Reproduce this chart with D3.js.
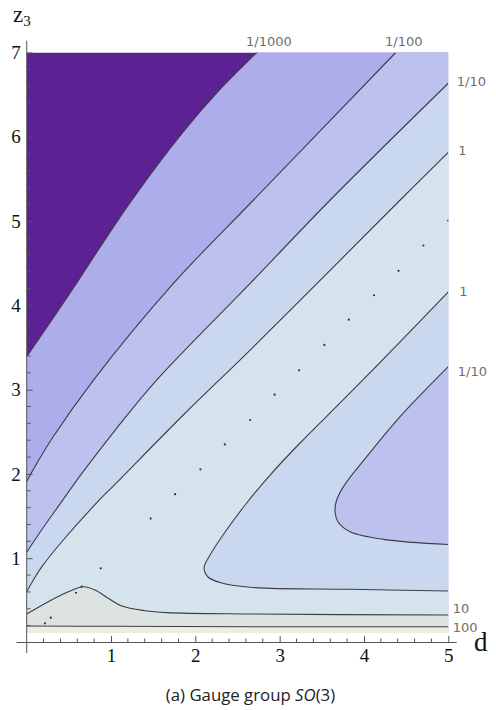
<!DOCTYPE html>
<html>
<head>
<meta charset="utf-8">
<script src="https://cdn.jsdelivr.net/npm/d3@7"></script>
<style>
  html, body { margin: 0; padding: 0; background: #fff; }
  svg { display: block; }
</style>
</head>
<body>
<svg id="chart" width="496" height="710"></svg>
<script>
// Axis ticks
const dTicks = [1, 2, 3, 4, 5];
const zTicks = [1, 2, 3, 4, 5, 6, 7];

// Plotted window in (d, z3)
const dRange = [0, 5];
const zRange = [0.113, 7];

// Contour lines, each a list of [d, z3] pairs
const lineThousandth = [[0, 3.39], [0.3, 3.83], [0.55, 4.2], [0.87, 4.69], [1.255, 5.26], [1.858, 6.06], [2.3, 6.57], [2.728, 7.0]];
const lineHundredth = [[0, 1.91], [0.1, 2.09], [0.3, 2.42], [0.79, 3.11], [1.74, 4.26], [2.69, 5.25], [4.377, 7.0]];
const lineTenth = [[0, 1.07], [0.18, 1.34], [0.375, 1.615], [0.65, 2.0], [1.05, 2.52], [1.52, 3.09], [2.65, 4.26], [3.6, 5.25], [5, 6.635]];
const lineUnitUpper = [[0, 0.603], [0.09, 0.76], [0.18, 0.9], [0.434, 1.216], [0.87, 1.7], [1.05, 1.88], [1.878, 2.72], [2.65, 3.47], [4.43, 5.25], [5, 5.816]];
const lineUnitLower = [[5, 4.16], [4.428, 3.566], [3.752, 2.878], [3.242, 2.367], [2.886, 1.987], [2.59, 1.631], [2.353, 1.311], [2.175, 1.038], [2.103, 0.884], [2.151, 0.777], [2.293, 0.712], [2.649, 0.655], [3.835, 0.631], [5, 0.611]];
const lineTenthNose = [[5, 3.272], [4.428, 2.679], [4.033, 2.205], [3.756, 1.849], [3.669, 1.667], [3.657, 1.548], [3.693, 1.43], [3.835, 1.315], [4.23, 1.224], [5, 1.163]];
const lineTen = [[0, 0.338], [0.256, 0.484], [0.454, 0.584], [0.671, 0.662], [0.81, 0.623], [0.968, 0.524], [1.127, 0.433], [1.403, 0.377], [1.66, 0.354], [2.65, 0.338], [5, 0.326]];
const lineHundred = [[0, 0.196], [1.0, 0.192], [2.65, 0.187], [5, 0.187]];

// Sample points
const dotD = [0.217, 0.285, 0.585, 0.652, 0.878, 1.47, 1.76, 2.06, 2.35, 2.65, 2.94, 3.23, 3.53, 3.82, 4.12, 4.41, 4.705, 5.0];
const dotZ = [0.228, 0.294, 0.59, 0.662, 0.88, 1.47, 1.76, 2.055, 2.35, 2.64, 2.94, 3.23, 3.53, 3.83, 4.12, 4.41, 4.71, 5.005];

// Band fills, from the lowest values up
const fillBelowThousandth = "#5c2192";
const fillThousandthToHundredth = "#adadeb";
const fillHundredthToTenth = "#bcc1ee";
const fillTenthToOne = "#c9d8ef";
const fillOneToTen = "#d5e3ec";
const fillTenToHundred = "#dde3e1";
const fillAboveHundred = "#eeebe1";

const svg = d3.select("#chart");

const x = d3.scaleLinear().domain([0, 5]).range([26.7, 448.3]);
const y = d3.scaleLinear().domain([0, 7]).range([642.5, 52.5]);

const curve = d3.line()
  .x(p => x(p[0]))
  .y(p => y(p[1]))
  .curve(d3.curveCatmullRom.alpha(0.5));

// a contour followed by straight edges of the window
function region(points, tail) {
  return curve(points) + tail.map(p => "L" + x(p[0]) + "," + y(p[1])).join("") + "Z";
}

const [d0, d1] = dRange;
const [z0, z1] = zRange;

svg.append("clipPath").attr("id", "plotClip")
  .append("rect")
  .attr("x", x(d0)).attr("y", y(z1))
  .attr("width", x(d1) - x(d0)).attr("height", y(z0) - y(z1));

const plot = svg.append("g").attr("clip-path", "url(#plotClip)");

plot.append("rect")
  .attr("x", x(d0)).attr("y", y(z1))
  .attr("width", x(d1) - x(d0)).attr("height", y(z0) - y(z1))
  .attr("fill", fillBelowThousandth);

const lowerRight = [[d1, z1], [d1, z0], [d0, z0]];
const bottomOnly = [[d1, z0], [d0, z0]];

const regions = [
  { path: region(lineThousandth, lowerRight), fill: fillThousandthToHundredth },
  { path: region(lineHundredth, lowerRight), fill: fillHundredthToTenth },
  { path: region(lineTenth, bottomOnly), fill: fillTenthToOne },
  { path: region(lineUnitUpper, bottomOnly), fill: fillOneToTen },
  { path: region(lineUnitLower, []), fill: fillTenthToOne },
  { path: region(lineTenthNose, []), fill: fillHundredthToTenth },
  { path: region(lineTen, bottomOnly), fill: fillTenToHundred },
  { path: region(lineHundred, bottomOnly), fill: fillAboveHundred }
];

plot.selectAll("path.band").data(regions).join("path")
  .attr("class", "band")
  .attr("d", r => r.path)
  .attr("fill", r => r.fill)
  .attr("stroke", "none");

const contourLines = [lineThousandth, lineHundredth, lineTenth, lineUnitUpper, lineUnitLower, lineTenthNose, lineTen, lineHundred];
plot.selectAll("path.contour").data(contourLines).join("path")
  .attr("class", "contour")
  .attr("d", curve)
  .attr("fill", "none")
  .attr("stroke", "#3c3c48")
  .attr("stroke-width", 1.1);

plot.selectAll("circle.dot").data(dotD.map((d, i) => [d, dotZ[i]])).join("circle")
  .attr("class", "dot")
  .attr("cx", p => x(p[0]))
  .attr("cy", p => y(p[1]))
  .attr("r", 1.1)
  .attr("fill", "#333");

// contour labels, placed beside the end of each line
const labelFont = "'DejaVu Sans', sans-serif";
const labels = [
  { text: "1/1000", at: lineThousandth[lineThousandth.length - 1], dx: -10.7, dy: -7 },
  { text: "1/100", at: lineHundredth[lineHundredth.length - 1], dx: -10.7, dy: -7 },
  { text: "1/10", at: lineTenth[lineTenth.length - 1], dx: 8.5, dy: 2.4 },
  { text: "1", at: lineUnitUpper[lineUnitUpper.length - 1], dx: 10, dy: 2.4 },
  { text: "1", at: lineUnitLower[0], dx: 11, dy: 4 },
  { text: "1/10", at: lineTenthNose[0], dx: 9.5, dy: 9.7 },
  { text: "10", at: lineTen[lineTen.length - 1], dx: 4.5, dy: -2.3 },
  { text: "100", at: lineHundred[lineHundred.length - 1], dx: 4.5, dy: 5.5 }
];
svg.selectAll("text.clabel").data(labels).join("text")
  .attr("class", "clabel")
  .attr("x", l => x(l.at[0]) + l.dx)
  .attr("y", l => y(l.at[1]) + l.dy)
  .attr("font-family", labelFont)
  .attr("font-size", 13)
  .attr("fill", "#6e6e6e")
  .text(l => l.text);

// axes crossing at the origin
const axisColor = "#555";
const serif = "'Liberation Serif', 'Times New Roman', serif";

svg.append("line")
  .attr("x1", x(-0.12)).attr("x2", x(5.1))
  .attr("y1", y(0)).attr("y2", y(0))
  .attr("stroke", axisColor).attr("stroke-width", 1);
svg.append("line")
  .attr("x1", x(0)).attr("x2", x(0))
  .attr("y1", y(-0.125)).attr("y2", y(7.14))
  .attr("stroke", axisColor).attr("stroke-width", 1);

const minorD = d3.range(1, 25).map(i => i / 5).filter(v => !Number.isInteger(v));
const minorZ = d3.range(1, 35).map(i => i / 5).filter(v => Math.abs(v - Math.round(v)) > 1e-9);

const xAxis = svg.append("g")
  .attr("transform", `translate(0,${y(0)})`)
  .call(d3.axisBottom(x).tickValues(dTicks).tickFormat(d3.format("d")).tickSize(-6.5).tickPadding(6));
const yAxis = svg.append("g")
  .attr("transform", `translate(${x(0)},0)`)
  .call(d3.axisLeft(y).tickValues(zTicks).tickFormat(d3.format("d")).tickSize(-6).tickPadding(6));

[xAxis, yAxis].forEach(g => {
  g.select(".domain").remove();
  g.selectAll(".tick line").attr("stroke", axisColor);
  g.selectAll(".tick text")
    .attr("font-family", serif)
    .attr("font-size", 19)
    .attr("fill", "#111");
});

xAxis.selectAll("line.minor").data(minorD).join("line")
  .attr("class", "minor")
  .attr("x1", d => x(d)).attr("x2", d => x(d))
  .attr("y1", 0).attr("y2", -4)
  .attr("stroke", axisColor);
yAxis.selectAll("line.minor").data(minorZ).join("line")
  .attr("class", "minor")
  .attr("y1", d => y(d)).attr("y2", d => y(d))
  .attr("x1", 0).attr("x2", 4)
  .attr("stroke", axisColor);

// axis names
const zName = svg.append("text")
  .attr("x", 13).attr("y", 22)
  .attr("font-family", serif)
  .attr("font-size", 23)
  .attr("fill", "#111");
zName.append("tspan").text("z");
zName.append("tspan").attr("font-size", 15).attr("dy", 3.5).text("3");

svg.append("text")
  .attr("x", 474).attr("y", 651)
  .attr("font-family", serif)
  .attr("font-size", 27)
  .attr("fill", "#111")
  .text("d");

// caption
const caption = svg.append("text")
  .attr("x", 250.5).attr("y", 701)
  .attr("text-anchor", "middle")
  .attr("font-family", "'Open Sans', 'Noto Sans', sans-serif")
  .attr("font-size", 16.8)
  .attr("fill", "#222");
caption.append("tspan").text("(a) Gauge group ");
caption.append("tspan").attr("font-style", "italic").text("SO");
caption.append("tspan").text("(3)");
</script>
</body>
</html>
